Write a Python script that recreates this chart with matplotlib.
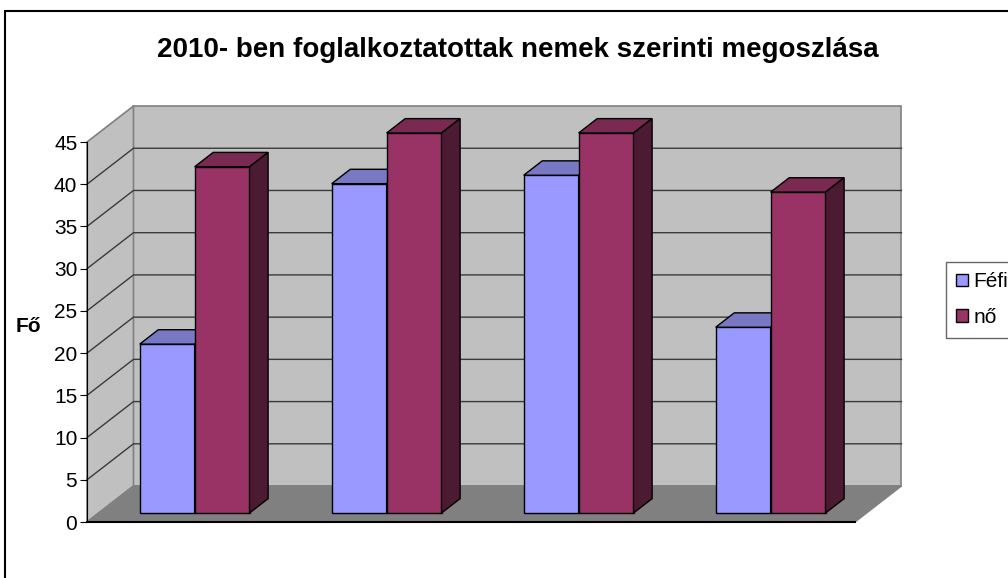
import numpy as np
import matplotlib
matplotlib.use("Agg")
import matplotlib.pyplot as plt
from matplotlib.patches import Polygon, Rectangle

plt.rcParams['font.family'] = ['Liberation Sans', 'DejaVu Sans']

# data
categories = ['1', '2', '3', '4']
ferfi = [20, 39, 40, 22]
no = [41, 45, 45, 38]
series_names = ['Féfi', 'nő']
title = '2010- ben foglalkoztatottak nemek szerinti megoszlása'
ylabel = 'Fő'
yticks = list(range(0, 50, 5))

# 3D look (oblique offset of the full depth, in data units)
DX = 0.242
DY = 4.26
d0, d1 = 0.25, 0.65   # bar front / back depth
bw = 0.286            # bar width

front_cols = ['#9999FF', '#993366']
top_cols = ['#7878C4', '#7A2950']
side_cols = ['#5A5A99', '#4D1A33']


def proj(x, y, d):
    return (x + d * DX, y + d * DY)


fig = plt.figure(figsize=(10.08, 5.78), dpi=100)
ax = fig.add_axes([87 / 1008, 56 / 578, 768 / 1008, 380 / 578])
n = len(categories)
ax.set_xlim(0, n)
ax.set_ylim(0, 45)

# walls and floor
ymax = yticks[-1]
back = Polygon([proj(0, 0, 1), proj(n, 0, 1), proj(n, ymax, 1), proj(0, ymax, 1)],
               closed=True, fc='#C0C0C0', ec='#808080', lw=1.2, clip_on=False, zorder=0)
left = Polygon([proj(0, 0, 0), proj(0, 0, 1), proj(0, ymax, 1), proj(0, ymax, 0)],
               closed=True, fc='#C0C0C0', ec='#808080', lw=1.2, clip_on=False, zorder=0)
floor = Polygon([proj(0, 0, 0), proj(n, 0, 0), proj(n, 0, 1), proj(0, 0, 1)],
                closed=True, fc='#808080', ec='#808080', lw=1, clip_on=False, zorder=0.5)
for p in (back, left, floor):
    ax.add_patch(p)

# gridlines
for v in yticks[1:-1]:
    x0, y0 = proj(0, v, 0)
    x1, y1 = proj(0, v, 1)
    x2, y2 = proj(n, v, 1)
    ax.plot([x0, x1, x2], [y0, y1, y2], color='#3a3a3a', lw=1, clip_on=False, zorder=1)
ax.plot([0, n], [0, 0], color='black', lw=1.5, clip_on=False, zorder=1)

# bars
series = [ferfi, no]
xs = np.arange(n) + 0.5
containers = []
for i in range(n):
    for s, vals in enumerate(series):
        xl = xs[i] - bw + s * bw
        fx, fy = proj(xl, 0, d0)
        v = vals[i]
        c = ax.bar(fx, v, width=bw, bottom=fy, align='edge', color=front_cols[s],
                   edgecolor='black', lw=1, zorder=2 + i * 2 + s, clip_on=False,
                   label=series_names[s] if i == 0 else None)
        if i == 0:
            containers.append(c)
        dd = d1 - d0
        top = Polygon([(fx, fy + v), (fx + bw, fy + v),
                       (fx + bw + dd * DX, fy + v + dd * DY), (fx + dd * DX, fy + v + dd * DY)],
                      closed=True, fc=top_cols[s], ec='black', lw=1,
                      zorder=2 + i * 2 + s, clip_on=False)
        side = Polygon([(fx + bw, fy), (fx + bw, fy + v),
                        (fx + bw + dd * DX, fy + v + dd * DY), (fx + bw + dd * DX, fy + dd * DY)],
                       closed=True, fc=side_cols[s], ec='black', lw=1,
                       zorder=2 + i * 2 + s, clip_on=False)
        ax.add_patch(top)
        ax.add_patch(side)

# axes styling
for sp in ['top', 'right', 'bottom']:
    ax.spines[sp].set_visible(False)
ax.spines['left'].set_color('black')
ax.spines['left'].set_zorder(1.5)
ax.set_xticks([])
ax.set_yticks(yticks)
ax.tick_params(axis='y', direction='out', length=5, labelsize=15, pad=2, colors='black')
ax.set_facecolor('none')

fig.text(28 / 1008, 1 - 327 / 578, ylabel, fontsize=15, fontweight='bold',
         ha='center', va='center')
fig.text(518 / 1008, 1 - 50 / 578, title, fontsize=20, fontweight='bold',
         ha='center', va='center')

leg = fig.legend(handles=containers, labels=series_names, loc='upper left',
                 bbox_to_anchor=(946 / 1008, 1 - 262 / 578), fontsize=15,
                 frameon=True, fancybox=False, edgecolor='#404040',
                 handlelength=0.55, handleheight=0.55, handletextpad=0.25,
                 borderpad=0.5, labelspacing=0.8, borderaxespad=0)
leg.get_frame().set_linewidth(1)

fig.patches.append(Rectangle((5 / 1008, -0.1), 1.2, 1 - 11 / 578 + 0.1,
                             transform=fig.transFigure, fill=False,
                             ec='black', lw=1.5))

fig.savefig('out.png', dpi=100)
